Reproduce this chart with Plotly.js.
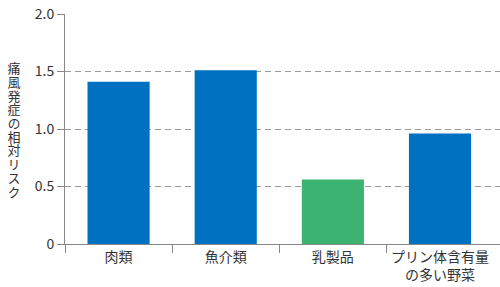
<!DOCTYPE html>
<html>
<head>
<meta charset="utf-8">
<script src="https://cdn.plot.ly/plotly-3.0.1.min.js"></script>
<style>html,body{margin:0;padding:0;background:#fff;}#chart{width:500px;height:287px;}</style>
</head>
<body>
<div id="chart"></div>
<script>
const categories = ["肉類", "魚介類", "乳製品", "プリン体含有量<br>の多い野菜"];
const values = [1.41, 1.51, 0.56, 0.96];
const barColors = ["#0070c0", "#0070c0", "#3cb371", "#0070c0"];
const yTicks = [0, 0.5, 1.0, 1.5, 2.0];
const yTickText = ["0", "0.5", "1.0", "1.5", "2.0"];
const yTitle = "痛風発症の相対リスク";

const FONT = "Noto Sans CJK JP, Noto Sans, sans-serif";
const positions = categories.map((c, i) => i);

const trace = {
  type: "bar",
  x: positions,
  y: values,
  marker: {color: barColors},
  width: 0.58,
  hoverinfo: "none"
};
const dummy = {
  type: "scatter",
  x: [positions[0]],
  y: [0],
  xaxis: "x2",
  mode: "markers",
  marker: {opacity: 0},
  hoverinfo: "none",
  showlegend: false
};

const W = 500, H = 287, mL = 65, mR = 0, mT = 14, mB = 43;
const plotH = H - mT - mB;
const titleCX = 14, titleCY = 130;

const xRange = [-0.5, 3.56];
const layout = {
  width: W, height: H,
  margin: {l: mL, r: mR, t: mT, b: mB, pad: 0},
  paper_bgcolor: "#fff", plot_bgcolor: "#fff",
  showlegend: false,
  font: {family: FONT, size: 14, color: "#333"},
  xaxis: {
    range: xRange,
    tickvals: positions,
    ticktext: categories,
    ticks: "",
    showgrid: false,
    zeroline: false,
    showline: true,
    linecolor: "#888",
    linewidth: 1,
    tickfont: {family: FONT, size: 14, color: "#333"},
    fixedrange: true
  },
  xaxis2: {
    overlaying: "x",
    range: xRange,
    tickvals: [-0.5, 0.5, 1.5, 2.5],
    ticktext: ["", "", "", ""],
    ticks: "outside",
    ticklen: 8,
    tickcolor: "#888",
    tickwidth: 1,
    showgrid: false,
    zeroline: false,
    showline: false,
    side: "bottom",
    anchor: "y"
  },
  yaxis: {
    range: [0, 2.0],
    tickvals: yTicks,
    ticktext: yTickText,
    ticks: "outside",
    ticklen: 7,
    tickcolor: "#888",
    showline: true,
    linecolor: "#888",
    linewidth: 1,
    showgrid: true,
    gridcolor: "#999",
    griddash: "6px,4px",
    gridwidth: 1,
    zeroline: false,
    tickfont: {family: FONT, size: 14, color: "#333"},
    fixedrange: true
  },
  annotations: [{
    text: yTitle,
    xref: "paper", yref: "paper",
    x: (titleCX - mL) / (W - mL - mR),
    y: (H - mB - titleCY) / plotH,
    showarrow: false,
    xanchor: "center", yanchor: "middle",
    font: {family: FONT, size: 13, color: "#333"}
  }]
};

Plotly.newPlot("chart", [trace, dummy], layout, {displayModeBar: false, staticPlot: true}).then(gd => {
  const el = gd.querySelector(".annotation-text");
  if (!el) return;
  el.style.writingMode = "vertical-rl";
  el.style.textOrientation = "upright";
  el.style.letterSpacing = "0.7px";
  const r = el.getBoundingClientRect();
  const host = gd.getBoundingClientRect();
  const dx = titleCX - (r.left - host.left + r.width / 2);
  const dy = titleCY - (r.top - host.top + r.height / 2);
  const prev = el.getAttribute("transform") || "";
  el.setAttribute("transform", prev + " translate(" + dx + "," + dy + ")");
});
</script>
</body>
</html>
